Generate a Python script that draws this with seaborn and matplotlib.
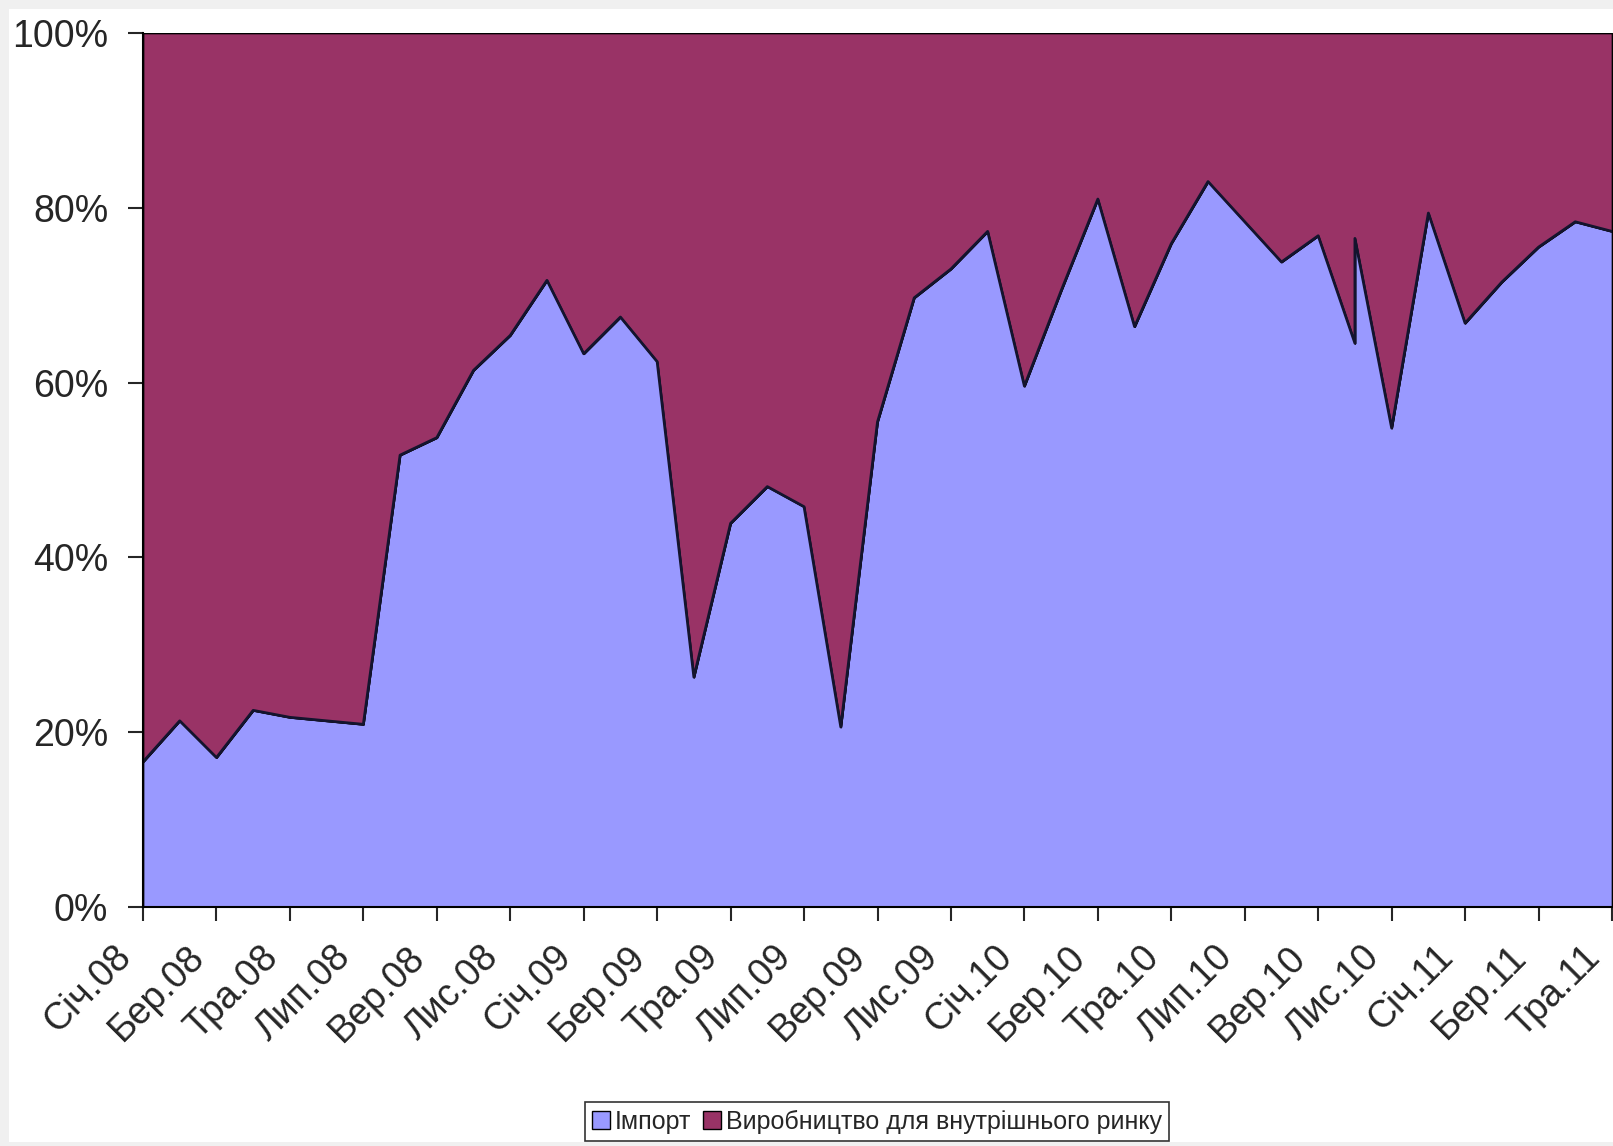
import numpy as np
import pandas as pd
import matplotlib
matplotlib.use('Agg')
import matplotlib.pyplot as plt
import matplotlib.transforms as mtransforms
from matplotlib.patches import Patch, Rectangle
import seaborn as sns

# Monthly share of import vs domestic production (100% stacked)
# Oct 2010 appears twice in the source data (vertical spike)
months = ['Січ.08', 'Лют.08', 'Бер.08', 'Кві.08', 'Тра.08', 'Чер.08', 'Лип.08', 'Сер.08',
          'Вер.08', 'Жов.08', 'Лис.08', 'Гру.08',
          'Січ.09', 'Лют.09', 'Бер.09', 'Кві.09', 'Тра.09', 'Чер.09', 'Лип.09', 'Сер.09',
          'Вер.09', 'Жов.09', 'Лис.09', 'Гру.09',
          'Січ.10', 'Лют.10', 'Бер.10', 'Кві.10', 'Тра.10', 'Чер.10', 'Лип.10', 'Сер.10',
          'Вер.10', 'Жов.10', 'Жов.10', 'Лис.10', 'Гру.10',
          'Січ.11', 'Лют.11', 'Бер.11', 'Кві.11', 'Тра.11']

import_share = [16.6, 21.3, 17.1, 22.5, 21.7, 21.3, 20.9, 51.7,
                53.7, 61.4, 65.4, 71.7,
                63.3, 67.5, 62.4, 26.3, 43.9, 48.1, 45.8, 20.6,
                55.5, 69.7, 73.0, 77.3,
                59.6, 70.5, 81.0, 66.4, 75.9, 83.0, 78.4, 73.8,
                76.8, 64.5, 76.5, 54.8, 79.4,
                66.8, 71.5, 75.5, 78.4, 77.3]

tick_labels = ['Січ.08', 'Бер.08', 'Тра.08', 'Лип.08', 'Вер.08', 'Лис.08',
               'Січ.09', 'Бер.09', 'Тра.09', 'Лип.09', 'Вер.09', 'Лис.09',
               'Січ.10', 'Бер.10', 'Тра.10', 'Лип.10', 'Вер.10', 'Лис.10',
               'Січ.11', 'Бер.11', 'Тра.11']

series_names = ['Імпорт', 'Виробництво для внутрішнього ринку']
colors = ['#9999ff', '#993366']

df = pd.DataFrame({'month': months, 'import': import_share})
df['production'] = 100 - df['import']
order = pd.Index(pd.unique(df['month']))
df['pos'] = order.get_indexer(df['month'])
tick_pos = order.get_indexer(tick_labels)

sns.set_style('white')
plt.rcParams['font.family'] = ['Liberation Sans', 'DejaVu Sans']

fig = plt.figure(figsize=(16.13, 11.46), dpi=100, facecolor='#f0f0f0')
fig.patches.append(Rectangle((9 / 1613, 4 / 1146), 1, 1133 / 1146,
                             transform=fig.transFigure, facecolor='white',
                             edgecolor='none', zorder=-10))
ax = fig.add_axes([143 / 1613, 239 / 1146, 1469 / 1613, 874 / 1146])
ax.set_facecolor('white')

ax.fill_between(df['pos'], 0, df['import'], facecolor=colors[0],
                edgecolor='black', linewidth=1.2)
ax.fill_between(df['pos'], df['import'], 100, facecolor=colors[1],
                edgecolor='black', linewidth=1.2)
sns.lineplot(data=df, x='pos', y='import', ax=ax, sort=False, estimator=None,
             color='#14142e', linewidth=2)

ax.set_xlim(0, order.size - 1)
ax.set_ylim(0, 100)
ax.set_xlabel('')
ax.set_ylabel('')

ax.set_yticks([0, 20, 40, 60, 80, 100])
ax.set_yticklabels([f'{v}%' for v in [0, 20, 40, 60, 80, 100]], fontsize=27)
ax.set_xticks(tick_pos)
ax.set_xticklabels(tick_labels, fontsize=27, rotation=45, ha='right', va='top')
ax.tick_params(axis='y', direction='out', length=11, width=1.5, pad=14, left=True)
ax.tick_params(axis='x', direction='out', length=10, width=1.5, pad=13, bottom=True)

# shift rotated labels a little left so they end just before the tick
shift = mtransforms.ScaledTranslation(-5 / 100, 0, fig.dpi_scale_trans)
for lbl in ax.get_xticklabels():
    lbl.set_transform(lbl.get_transform() + shift)

for side in ['top', 'right']:
    ax.spines[side].set_visible(False)
for side in ['left', 'bottom']:
    ax.spines[side].set_color('black')
    ax.spines[side].set_linewidth(1.5)

handles = [Patch(facecolor=c, edgecolor='black', linewidth=1) for c in colors]
leg = fig.legend(handles, series_names, loc='center',
                 bbox_to_anchor=(877 / 1613, 1 - 1121.5 / 1146), ncol=2,
                 frameon=True, fancybox=False, edgecolor='black', fontsize=18,
                 handlelength=0.7, handleheight=0.7, handletextpad=0.2,
                 columnspacing=0.5, borderpad=0.3, borderaxespad=0)
leg.get_frame().set_linewidth(1.2)

fig.savefig('out.png', dpi=100, facecolor=fig.get_facecolor())
